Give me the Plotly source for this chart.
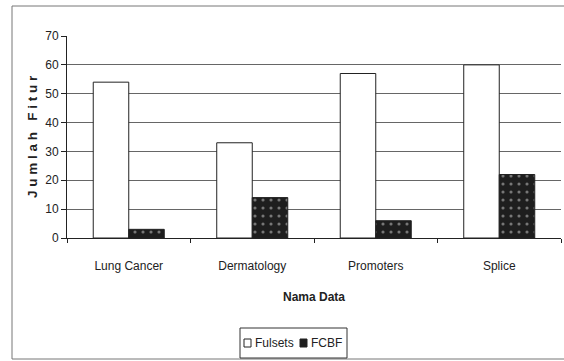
import plotly.graph_objects as go

categories = ["Lung Cancer", "Dermatology", "Promoters", "Splice"]
fullsets = [54, 33, 57, 60]
fcbf = [3, 14, 6, 22]
y_ticks = [0, 10, 20, 30, 40, 50, 60, 70]
legend_labels = ["Fulsets", "FCBF"]

FONT = "Liberation Sans, Arial, sans-serif"

W, H = 564, 361
# plot area in page pixels: x 67..561, y 36..238
L, R, T, B = 67, 561, 36, 238
def px(x):
    return (x - L) / (R - L)
def py(y):
    return (B - y) / (B - T)

fig = go.Figure()
fig.add_trace(go.Bar(
    x=categories, y=fullsets, name=legend_labels[0],
    marker=dict(color="white", line=dict(color="#222222", width=1)),
))
fig.add_trace(go.Bar(
    x=categories, y=fcbf, name=legend_labels[1],
    marker=dict(color="#1e1e1e", line=dict(color="#222222", width=1),
                pattern=dict(shape=".", fgcolor="#cfcfcf", bgcolor="#1e1e1e",
                             size=8, solidity=0.12)),
))

border = dict(color="#777777", width=1)
shapes = [
    # outer chart border (left, top, bottom; right edge is off the page)
    dict(type="line", xref="paper", yref="paper", x0=px(12), x1=px(12), y0=py(359), y1=py(6), line=border),
    dict(type="line", xref="paper", yref="paper", x0=px(12), x1=px(564), y0=py(6), y1=py(6), line=border),
    dict(type="line", xref="paper", yref="paper", x0=px(12), x1=px(564), y0=py(359), y1=py(359), line=border),
    # legend box
    dict(type="rect", xref="paper", yref="paper",
         x0=px(240), x1=px(347), y0=py(358), y1=py(328),
         line=dict(color="#333333", width=1), fillcolor="white"),
    # legend swatches
    dict(type="rect", xref="paper", yref="paper",
         x0=px(244), x1=px(251), y0=py(347), y1=py(339),
         line=dict(color="#222222", width=1), fillcolor="white"),
    dict(type="rect", xref="paper", yref="paper",
         x0=px(300), x1=px(307), y0=py(347), y1=py(339),
         line=dict(color="#222222", width=1), fillcolor="#1e1e1e"),
]
annotations = [
    dict(text=legend_labels[0], xref="paper", yref="paper", x=px(253), y=py(343),
         xanchor="left", yanchor="middle", showarrow=False, font=dict(size=12)),
    dict(text=legend_labels[1], xref="paper", yref="paper", x=px(309), y=py(343),
         xanchor="left", yanchor="middle", showarrow=False, font=dict(size=12)),
]

fig.update_layout(
    width=W, height=H,
    margin=dict(l=L, r=W - R, t=T, b=H - B),
    paper_bgcolor="white", plot_bgcolor="white",
    barmode="group", bargap=0.425, bargroupgap=0,
    font=dict(family=FONT, size=12, color="#222222"),
    showlegend=False,
    xaxis=dict(
        automargin=False,
        showgrid=False, showline=True, linecolor="#222222", linewidth=1,
        ticks="outside", ticklen=4, tickcolor="#222222", tickson="boundaries",
        ticklabelstandoff=17,
        title=dict(text="<b>Nama Data</b>", font=dict(size=12), standoff=20),
    ),
    yaxis=dict(
        automargin=False,
        range=[0, 70], tickvals=y_ticks, showgrid=True, gridcolor="#666666", gridwidth=1,
        showline=True, linecolor="#222222", linewidth=1,
        ticks="outside", ticklen=5, tickcolor="#222222",
        title=dict(text="<b>J u m l a h   F i t u r</b>", font=dict(size=13.5), standoff=4),
        zeroline=False,
    ),
    shapes=shapes,
    annotations=annotations,
)

fig.write_html("out.html",
               config={"displayModeBar": False},
               post_script="document.body.style.margin='0';document.body.style.overflow='hidden';")
